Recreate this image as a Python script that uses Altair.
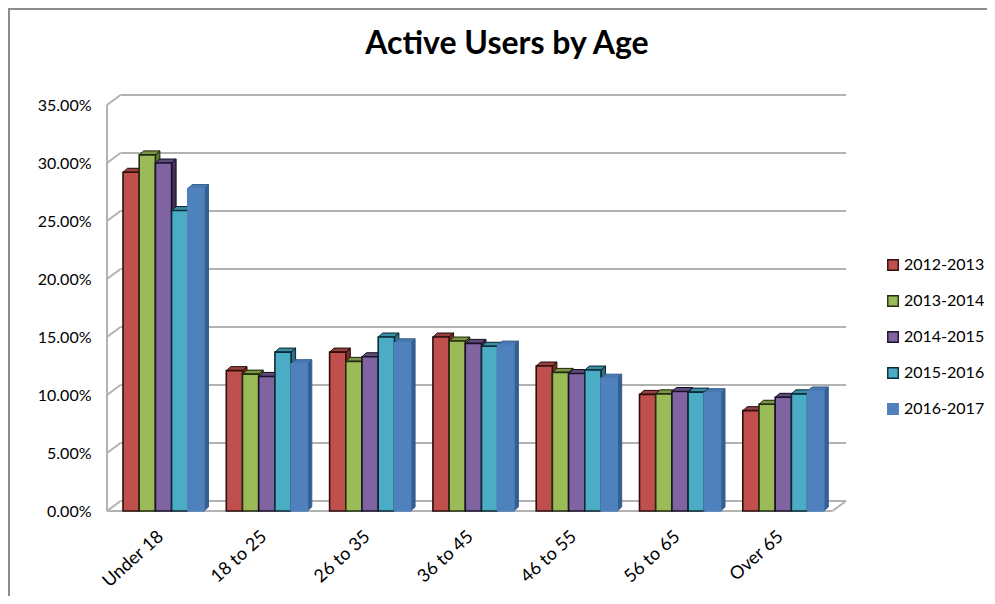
import altair as alt
import pandas as pd

title_text = "Active Users by Age"
categories = ["Under 18", "18 to 25", "26 to 35", "36 to 45", "46 to 55", "56 to 65", "Over 65"]
series = ["2012-2013", "2013-2014", "2014-2015", "2015-2016", "2016-2017"]
v2012 = [29.2, 12.1, 13.7, 15.0, 12.5, 10.05, 8.65]
v2013 = [30.7, 11.8, 12.9, 14.65, 11.95, 10.1, 9.2]
v2014 = [30.0, 11.6, 13.3, 14.45, 11.85, 10.3, 9.8]
v2015 = [25.9, 13.7, 15.0, 14.2, 12.15, 10.25, 10.1]
v2016 = [27.8, 12.7, 14.5, 14.3, 11.45, 10.2, 10.35]
values = [v2012, v2013, v2014, v2015, v2016]

front = ["#C0504D", "#9BBB59", "#8064A2", "#4BACC6", "#4F81BD"]
edge = ["#2e0f0e", "#242c10", "#1a1228", "#0c2a33", "#4F81BD"]
side = ["#7d2b29", "#5f7532", "#43305c", "#2a7286", "#355f91"]
top = ["#98403d", "#7c9645", "#5f4a7c", "#3a8ea5", "#4a78b0"]
outline = ["#200a0a", "#1c2309", "#120c1e", "#08222a", "#355f91"]
grid_color = "#b2b2b2"
frame_color = "#8c8c8c"

# scale set-up: one x unit is one category, one y unit is one percent
PX_X = 103.3
PX_Y = 58 / 5
W, H = 739, 416
x_min = -5 / PX_X
x_max = x_min + W / PX_X
y_max = H / PX_Y
wall_dx, wall_dv = 13.5 / PX_X, 10 / PX_Y
bar_dx, bar_dv = 4.5 / PX_X, 4 / PX_Y
bar_w = 16.2 / PX_X
bar_start = 11 / PX_X

ticks = [0, 5, 10, 15, 20, 25, 30, 35]

# walls and gridlines
lines = []
def seg(name, x0, y0, x1, y1):
    lines.append({"id": name, "o": 0, "x": x0, "y": y0})
    lines.append({"id": name, "o": 1, "x": x1, "y": y1})

seg("left", x_min, 0, x_min, 35)
for t in ticks:
    seg(f"d{t}", x_min, t, x_min + wall_dx, t + wall_dv)
    seg(f"g{t}", x_min + wall_dx, t + wall_dv, x_max, t + wall_dv)
seg("floor", x_min, 0, x_max - wall_dx, 0)
seg("floorr", x_max - wall_dx, 0, x_max, wall_dv)
lines_df = pd.DataFrame(lines)

faces, fronts = [], []
for c, cat in enumerate(categories):
    for s, name in enumerate(series):
        v = values[s][c]
        xl = c + bar_start + s * bar_w
        xr = xl + bar_w
        fronts.append({"series": name, "x": xl, "x2": xr, "y": v, "y2": 0})
        d, h = bar_dx, bar_dv
        poly = f"{c}-{s}"
        shape_side = [(xr, 0), (xr + d, h), (xr + d, v + h), (xr, v), (xr, 0)]
        shape_top = [(xl, v), (xl + d, v + h), (xr + d, v + h), (xr, v), (xl, v)]
        for i, (px, py) in enumerate(shape_side):
            faces.append({"poly": poly + "s", "o": i, "x": px, "y": py,
                          "fill": side[s], "line": outline[s]})
        for i, (px, py) in enumerate(shape_top):
            faces.append({"poly": poly + "t", "o": i, "x": px, "y": py,
                          "fill": top[s], "line": outline[s]})
faces_df = pd.DataFrame(faces)
fronts_df = pd.DataFrame(fronts)

xs = alt.Scale(domain=[x_min, x_max], nice=False, zero=False)
ys = alt.Scale(domain=[0, y_max], nice=False, zero=True)
FONT = "Lato"

label_list = "[" + ",".join(f"'{c}'" for c in categories) + "]"
x_axis = alt.Axis(
    values=[i + 0.47 for i in range(7)],
    labelExpr=f"{label_list}[floor(datum.value)]",
    labelAngle=-42, labelAlign="right", labelBaseline="middle", labelPadding=23,
    labelFontSize=18, labelFont=FONT, labelColor="#000000", labelOverlap=False,
    domain=False, ticks=False, grid=False, title=None,
)
y_axis = alt.Axis(
    values=ticks, labelExpr="format(datum.value, '.2f') + '%'",
    labelFontSize=16, labelFont=FONT, labelColor="#000000", labelPadding=16,
    domain=False, ticks=False, grid=False, title=None,
)

wall = alt.Chart(lines_df).mark_line(color=grid_color, strokeWidth=2).encode(
    x=alt.X("x:Q", scale=xs, axis=x_axis),
    y=alt.Y("y:Q", scale=ys, axis=y_axis),
    detail="id:N", order="o:Q",
)

face = alt.Chart(faces_df).mark_line(strokeWidth=1).encode(
    x=alt.X("x:Q", scale=xs),
    y=alt.Y("y:Q", scale=ys),
    fill=alt.Fill("fill:N", scale=None),
    stroke=alt.Stroke("line:N", scale=None),
    detail="poly:N", order="o:Q",
)

bars = alt.Chart(fronts_df).mark_rect(strokeWidth=1.6).encode(
    x=alt.X("x:Q", scale=xs),
    x2="x2:Q",
    y=alt.Y("y:Q", scale=ys),
    y2="y2:Q",
    fill=alt.Fill("series:N", scale=alt.Scale(domain=series, range=front),
                  legend=alt.Legend(orient="none", legendX=778, legendY=162, title=None,
                                    symbolType="square", symbolSize=110, symbolStrokeWidth=1.4,
                                    labelFontSize=16, labelFont=FONT, labelColor="#000000",
                                    rowPadding=18, labelOffset=3, padding=0)),
    stroke=alt.Stroke("series:N", scale=alt.Scale(domain=series, range=edge), legend=None),
)

one = pd.DataFrame({"t": [title_text]})
frame_top = alt.Chart(one).mark_rule(color=frame_color, strokeWidth=2).encode(
    x=alt.value(-99), x2=alt.value(880), y=alt.value(-86))
frame_left = alt.Chart(one).mark_rule(color=frame_color, strokeWidth=2).encode(
    x=alt.value(-98), y=alt.value(-87), y2=alt.value(501))
title = alt.Chart(one).mark_text(font=FONT, fontSize=32, fontWeight="bold", color="#000000",
                                 align="center", baseline="alphabetic").encode(
    text="t:N", x=alt.value(400), y=alt.value(-41))

chart = alt.layer(frame_top, frame_left, title, wall, face, bars).properties(
    width=W, height=H,
    padding={"left": 99, "top": 87, "right": 141, "bottom": 85},
    autosize=alt.AutoSizeParams(type="none"),
).configure_view(stroke=None)

chart.save("out.html", embed_options={"renderer": "svg", "actions": False})
